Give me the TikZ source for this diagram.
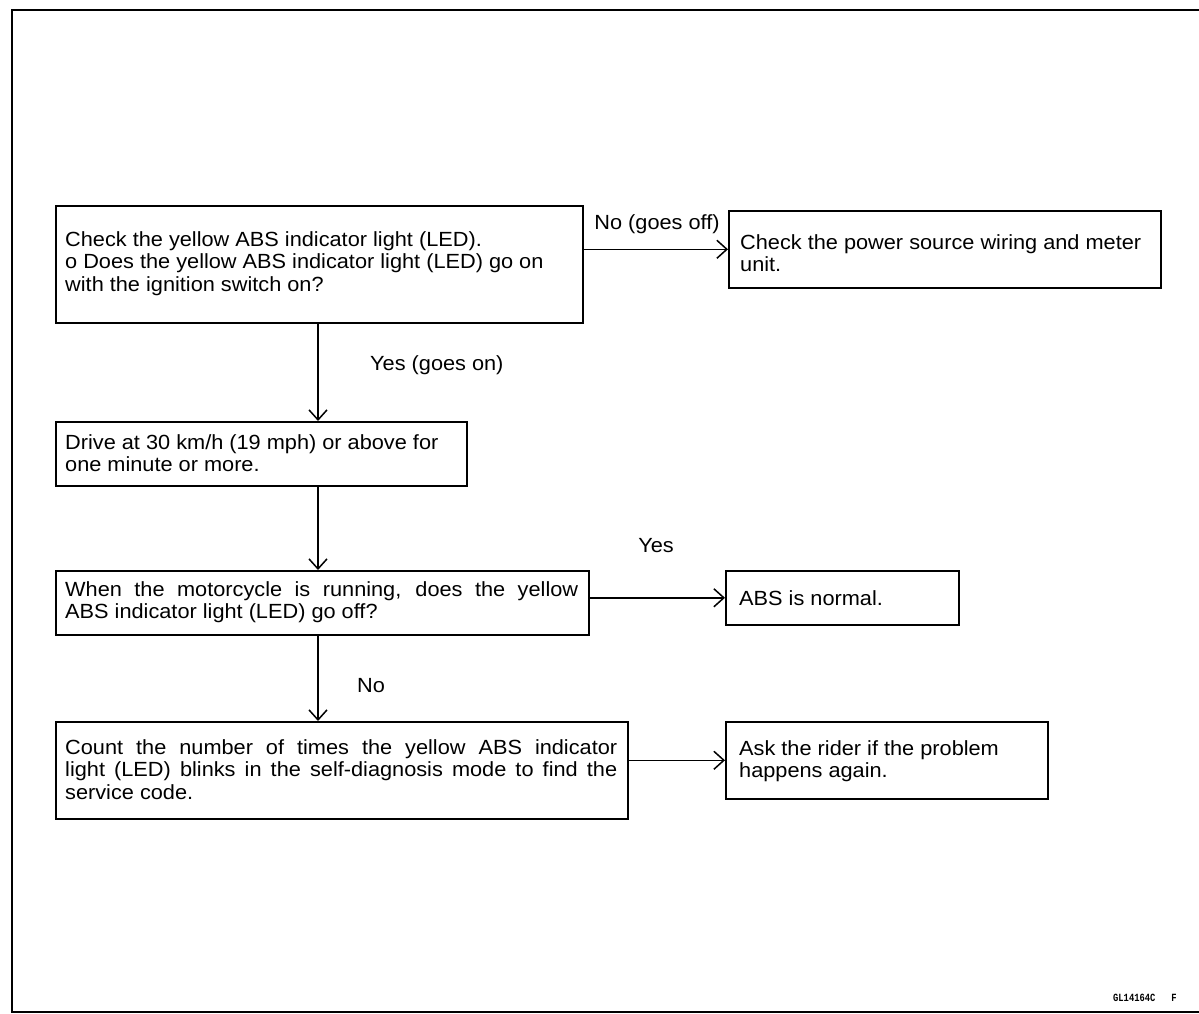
\documentclass[tikz,border=0pt]{standalone}
\usepackage{fontspec}
\setmainfont[FakeStretch=1.06]{Liberation Sans}
\newfontfamily\codefont{Liberation Mono}
\usetikzlibrary{arrows.meta}
\begin{document}
\begin{tikzpicture}[x=1pt,y=-1pt,
  box/.style={draw,line width=1.6pt,inner sep=0pt,anchor=north west},
  arr/.style={line width=1.5pt,-{Straight Barb[length=10pt,width=18pt,line width=1.5pt]}},
  lbl/.style={font=\fontsize{20.5}{22.5}\selectfont,inner sep=0pt},
  txt/.style={lbl,anchor=north west,align=left}]
\useasboundingbox (0,0) rectangle (1199,1014);
% frame
\draw[line width=2pt] (1199,10) -- (12,10) -- (12,1012) -- (1199,1012);
% boxes
\node[box,minimum width=527pt,minimum height=117pt] (b1) at (55,205) {};
\node[txt] (t1) at (65,231)
  {Check the yellow ABS indicator light (LED).\\ o Does the yellow ABS indicator light (LED) go on\\ with the ignition switch on?};
\node[box,minimum width=432pt,minimum height=77pt] (b2) at (728,210) {};
\node[txt] (t2) at (740,234)
  {Check the power source wiring and meter\\ unit.};
\node[box,minimum width=411pt,minimum height=64pt] (b3) at (55,421) {};
\node[txt] (t3) at (65,434)
  {Drive at 30 km/h (19 mph) or above for\\ one minute or more.};
\node[box,minimum width=533pt,minimum height=64pt] (b4) at (55,570) {};
\node[lbl,anchor=north west,align=justify,text width=513pt] (t4) at (65,581)
  {When the motorcycle is running, does the yellow\linebreak ABS indicator light (LED) go off?};
\node[box,minimum width=233pt,minimum height=54pt] (b5) at (725,570) {};
\node[txt] (t5) at (739,590)
  {ABS is normal.};
\node[box,minimum width=572pt,minimum height=97pt] (b6) at (55,721) {};
\node[lbl,anchor=north west,align=justify,text width=552pt] (t6) at (65,739)
  {Count the number of times the yellow ABS indicator\linebreak light (LED) blinks in the self-diagnosis mode to find the\linebreak service code.};
\node[box,minimum width=322pt,minimum height=77pt] (b7) at (725,721) {};
\node[txt] (t7) at (739,740)
  {Ask the rider if the problem\\ happens again.};
% arrows
\draw[arr] (b1.east |- b2.west) -- (b2.west);
\draw[arr] (318,322) coordinate (s1) -- (318,421) coordinate (e1);
\draw[arr] (318,485) coordinate (s2) -- (318,570) coordinate (e2);
\draw[arr] (b4.east |- b5.west) -- (b5.west);
\draw[arr] (318,634) coordinate (s3) -- (318,721) coordinate (e3);
\draw[arr] (b6.east |- b7.west) -- (b7.west);
% labels
\node[lbl] (l1) at (657,224) {No (goes off)};
\node[lbl,anchor=west] (l2) at (370,365) {Yes (goes on)};
\node[lbl] (l3) at (656,546) {Yes};
\node[lbl,anchor=west] (l4) at (357,686) {No};
\node[inner sep=0pt,anchor=west,font=\codefont\bfseries\fontsize{11}{12}\selectfont,xscale=0.8] (code) at (1113,998) {GL14164C\ \ \ F};
\end{tikzpicture}
\end{document}
